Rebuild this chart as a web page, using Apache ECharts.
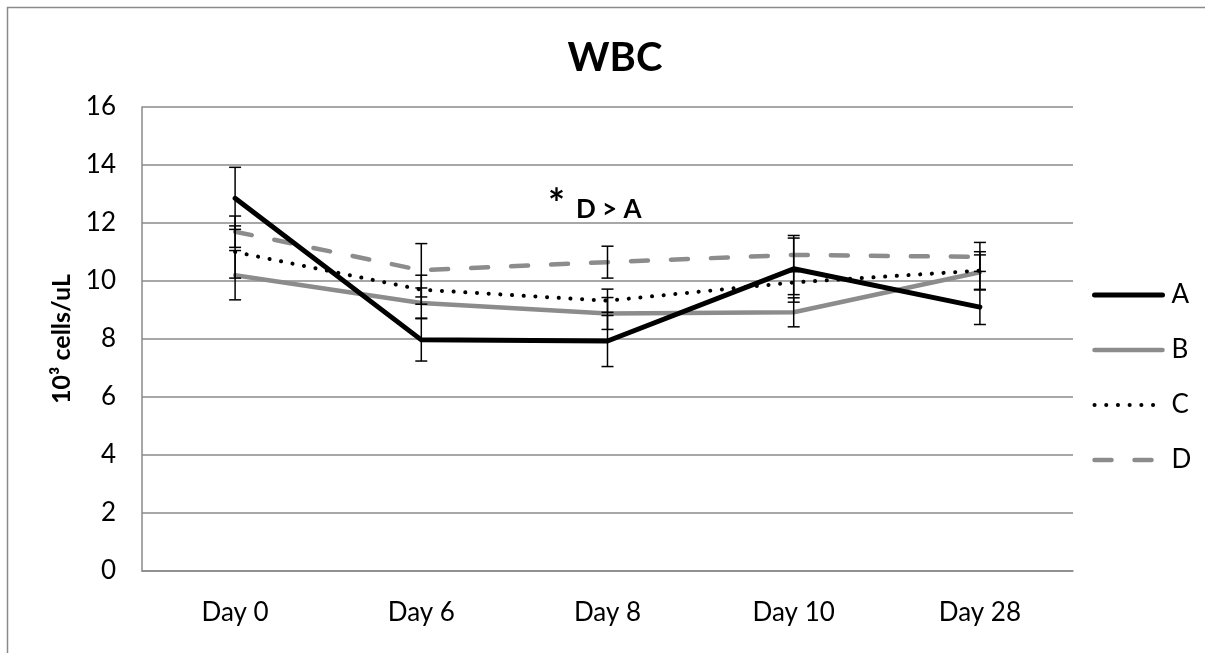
<!DOCTYPE html>
<html>
<head>
<meta charset="utf-8">
<script src="https://cdn.jsdelivr.net/npm/echarts@6/dist/echarts.min.js"></script>
<style>
html,body{margin:0;padding:0;background:#fff;}
#chart{width:1205px;height:653px;}
</style>
</head>
<body>
<div id="chart"></div>
<script>
var categories = ['Day 0', 'Day 6', 'Day 8', 'Day 10', 'Day 28'];
var seriesA = [12.85, 7.97, 7.93, 10.42, 9.10];
var seriesB = [10.20, 9.24, 8.88, 8.92, 10.30];
var seriesC = [11.00, 9.70, 9.32, 9.95, 10.36];
var seriesD = [11.70, 10.37, 10.65, 10.90, 10.83];
var errA = [1.07, 0.73, 0.88, 1.15, 0.60];
var errB = [0.85, 0.52, 0.55, 0.50, 0.60];
var errC = [0.90, 0.50, 0.40, 0.42, 0.65];
var errD = [0.54, 0.92, 0.55, 0.58, 0.50];
var yTicks = [0, 2, 4, 6, 8, 10, 12, 14, 16];

var FONT = 'Lato, "Open Sans", sans-serif';
var GRID_COLOR = '#8a8a8a';

var styleA = {color: '#000000', width: 5, cap: 'round', join: 'round'};
var styleB = {color: '#8c8c8c', width: 4.5, cap: 'round', join: 'round'};
var styleC = {color: '#000000', width: 4, type: [0.1, 11.6], cap: 'round', join: 'round'};
var styleD = {color: '#8c8c8c', width: 4.5, type: [17, 23], cap: 'round', join: 'round'};

function errSeries(name, vals, errs) {
  return {
    name: name,
    type: 'custom',
    z: 5,
    encode: {x: 0, y: 1},
    data: vals.map(function (v, i) { return [i, v, errs[i]]; }),
    renderItem: function (params, api) {
      var i = api.value(0), v = api.value(1), e = api.value(2);
      var top = api.coord([i, v + e]);
      var bot = api.coord([i, v - e]);
      var hw = 6;
      var st = {stroke: '#000', lineWidth: 1.5};
      return {
        type: 'group',
        children: [
          {type: 'line', shape: {x1: top[0], y1: top[1], x2: bot[0], y2: bot[1]}, style: st},
          {type: 'line', shape: {x1: top[0] - hw, y1: top[1], x2: top[0] + hw, y2: top[1]}, style: st},
          {type: 'line', shape: {x1: bot[0] - hw, y1: bot[1], x2: bot[0] + hw, y2: bot[1]}, style: st}
        ]
      };
    }
  };
}

var chart = echarts.init(document.getElementById('chart'), null, {renderer: 'canvas'});
chart.setOption({
  animation: false,
  backgroundColor: '#ffffff',
  title: {
    text: 'WBC',
    left: 610, top: 33,
    textAlign: 'center',
    textStyle: {fontFamily: FONT, fontWeight: 'bold', fontSize: 40, color: '#000'}
  },
  grid: {left: 142, right: 132, top: 107, bottom: 82},
  legend: {
    orient: 'vertical',
    left: 1087, top: 277,
    itemWidth: 68, itemHeight: 14,
    itemGap: 29,
    itemStyle: {opacity: 0},
    data: [
      {name: 'A', lineStyle: styleA},
      {name: 'B', lineStyle: styleB},
      {name: 'C', lineStyle: styleC},
      {name: 'D', lineStyle: styleD}
    ],
    textStyle: {fontFamily: FONT, fontSize: 26, color: '#000', lineHeight: 26, padding: [0, 0, 0, 4]}
  },
  xAxis: {
    type: 'category',
    data: categories,
    boundaryGap: true,
    axisLine: {show: true, lineStyle: {color: GRID_COLOR, width: 1.5}},
    axisTick: {show: false},
    axisLabel: {margin: 29, fontFamily: FONT, fontSize: 26, color: '#000'}
  },
  yAxis: {
    type: 'value',
    min: 0, max: 16, interval: 2,
    name: '10\u00b3 cells/uL',
    nameLocation: 'middle',
    nameGap: 68,
    nameRotate: 90,
    nameTextStyle: {fontFamily: FONT, fontWeight: 'bold', fontSize: 25, color: '#000'},
    axisLine: {show: true, lineStyle: {color: GRID_COLOR, width: 1.5}},
    axisTick: {show: false},
    splitLine: {show: true, lineStyle: {color: GRID_COLOR, width: 1.5}},
    axisLabel: {
      margin: 26, fontFamily: FONT, fontSize: 26, color: '#000',
      formatter: function (v) { return yTicks.indexOf(v) >= 0 ? String(v) : ''; }
    }
  },
  graphic: [
    {type: 'rect', silent: true, z: -10,
     shape: {x: 7.5, y: 7.5, width: 1210, height: 660},
     style: {fill: 'none', stroke: '#8a8a8a', lineWidth: 1.5}},
    {type: 'text', left: 548, top: 185, z: 20,
     style: {text: '*', fontFamily: FONT, fontWeight: 'bold', fontSize: 40, fill: '#000'}},
    {type: 'text', left: 576, top: 197, z: 20,
     style: {text: 'D > A', fontFamily: FONT, fontWeight: 'bold', fontSize: 26, fill: '#000'}}
  ],
  series: [
    {name: 'A', type: 'line', data: seriesA, symbol: 'none', z: 4,
     lineStyle: styleA, itemStyle: {color: '#000000'}},
    {name: 'B', type: 'line', data: seriesB, symbol: 'none', z: 3,
     lineStyle: styleB, itemStyle: {color: '#8c8c8c'}},
    {name: 'C', type: 'line', data: seriesC, symbol: 'none', z: 4,
     lineStyle: styleC, itemStyle: {color: '#000000'}},
    {name: 'D', type: 'line', data: seriesD, symbol: 'none', z: 3,
     lineStyle: styleD, itemStyle: {color: '#8c8c8c'}},
    errSeries('errA', seriesA, errA),
    errSeries('errB', seriesB, errB),
    errSeries('errC', seriesC, errC),
    errSeries('errD', seriesD, errD)
  ]
});
</script>
</body>
</html>
